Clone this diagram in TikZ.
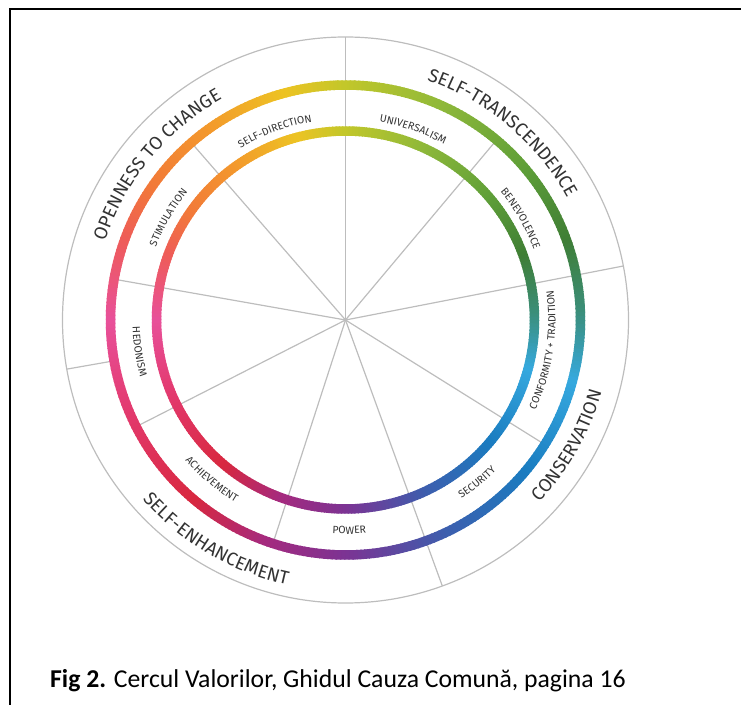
\documentclass[tikz,border=0pt]{standalone}
\usepackage{fontspec}
\setmainfont{Fira Sans}
\newfontfamily\capfont{Carlito}
\newfontfamily\lblfont{Fira Sans}
\usetikzlibrary{decorations.text}
\definecolor{c0}{HTML}{C2C72A}
\definecolor{c1}{HTML}{8DB83A}
\definecolor{c2}{HTML}{5E9E38}
\definecolor{c3}{HTML}{3F7E35}
\definecolor{c4}{HTML}{3B8E7A}
\definecolor{c5}{HTML}{36A9DF}
\definecolor{c6}{HTML}{1A7CC0}
\definecolor{c7}{HTML}{3D5EAE}
\definecolor{c8}{HTML}{7C3393}
\definecolor{c9}{HTML}{A52A7E}
\definecolor{c10}{HTML}{D8283F}
\definecolor{c11}{HTML}{E2386A}
\definecolor{c12}{HTML}{E8509A}
\definecolor{c13}{HTML}{EE5C58}
\definecolor{c14}{HTML}{F27A38}
\definecolor{c15}{HTML}{F39A2C}
\definecolor{c16}{HTML}{EDC323}
\definecolor{linegray}{HTML}{BDBDBD}
\definecolor{labelgray}{HTML}{333333}
\newcommand\grpfont{\lblfont\fontsize{18.5}{20}\selectfont}
\newcommand\valfont{\lblfont\fontsize{10.5}{12}\selectfont}
\tikzset{
  divider/.style={draw=linegray, line width=1.2pt},
  ringseg/.style={line width=9.5pt},
  curvedlabel/.style={decorate, decoration={text along path, text align=center, text color=labelgray}},
}
\begin{document}
\begin{tikzpicture}[x=1pt,y=1pt]
\useasboundingbox (0,0) rectangle (741,705);
\draw[line width=1.8pt] (741,696) -- (10,696) -- (10,0);
\node[anchor=base west, inner sep=0pt, font=\capfont\fontsize{25.7}{30}\selectfont] (caption) at (50,18)
  {\textbf{Fig 2.} Cercul Valorilor, Ghidul Cauza Comună, pagina 16};
\begin{scope}[shift={(345.5,385)}]
  % dividers
  \draw[divider] (0,0) -- (90:283);
  \draw[divider] (0,0) -- (50:235);
  \draw[divider] (0,0) -- (11:283);
  \draw[divider] (0,0) -- (-32:235);
  \draw[divider] (0,0) -- (-70:283);
  \draw[divider] (0,0) -- (-108:235);
  \draw[divider] (0,0) -- (207:235);
  \draw[divider] (0,0) -- (170:235);
  \draw[divider] (0,0) -- (131:235);
  \draw[divider] (190:235) -- (190:283);
  \draw[divider] (0,0) circle[radius=283];
  % gradient rings
  \foreach \sa/\sb/\ca/\cb in {90/65/c0/c1, 65/40/c1/c2, 40/20/c2/c3, 20/2/c3/c4, 2/-15/c4/c5,
      -15/-40/c5/c6, -40/-65/c6/c7, -65/-90/c7/c8, -90/-110/c8/c9, -110/-130/c9/c10,
      -130/-155/c10/c11, -155/-180/c11/c12, -180/-200/c12/c13, -200/-215/c13/c14,
      -215/-235/c14/c15, -235/-255/c15/c16, -255/-270/c16/c0}{
    \pgfmathtruncatemacro\n{\sa-(\sb)}
    \foreach \i in {1,...,\n}{
      \pgfmathsetmacro\aa{\sa-\i+1}
      \pgfmathsetmacro\bb{\sa-\i-0.35}
      \pgfmathtruncatemacro\pp{round(100-100*(\i-0.5)/\n)}
      \draw[ringseg, draw=\ca!\pp!\cb] (\aa:235) arc[start angle=\aa, end angle=\bb, radius=235];
      \draw[ringseg, draw=\ca!\pp!\cb] (\aa:189) arc[start angle=\aa, end angle=\bb, radius=189];
    }
  }
  % value labels (tops outward)
  \path[curvedlabel, decoration={text={|\valfont|SELF-DIRECTION}}] (150:201) arc[start angle=150, end angle=71, radius=201];
  \path[curvedlabel, decoration={text={|\valfont|UNIVERSALISM}}] (110:201) arc[start angle=110, end angle=31, radius=201];
  \path[curvedlabel, decoration={text={|\valfont|BENEVOLENCE}}] (70:201) arc[start angle=70, end angle=-10, radius=201];
  \path[curvedlabel, decoration={text={|\valfont|STIMULATION}}] (190:203) arc[start angle=190, end angle=110, radius=203];
  % value labels (tops inward)
  \path[curvedlabel, decoration={text={|\valfont|CONFORMITY + TRADITION}}] (-48.6:210) arc[start angle=-48.6, end angle=31.4, radius=210];
  \path[curvedlabel, decoration={text={|\valfont|SECURITY}}] (-91:213) arc[start angle=-91, end angle=-11, radius=213];
  \path[curvedlabel, decoration={text={|\valfont|POWER}}] (-129:214) arc[start angle=-129, end angle=-49, radius=214];
  \path[curvedlabel, decoration={text={|\valfont|ACHIEVEMENT}}] (-170:213) arc[start angle=-170, end angle=-90, radius=213];
  \path[curvedlabel, decoration={text={|\valfont|HEDONISM}}] (148.7:213) arc[start angle=148.7, end angle=228.7, radius=213];
  % group labels
  \path[curvedlabel, decoration={text={|\grpfont|OPENNESS TO CHANGE}}] (200:253) arc[start angle=200, end angle=81, radius=253];
  \path[curvedlabel, decoration={text={|\grpfont|SELF-TRANSCENDENCE}}] (110:253) arc[start angle=110, end angle=-10, radius=253];
  \path[curvedlabel, decoration={text={|\grpfont|CONSERVATION}}] (-90:266) arc[start angle=-90, end angle=31, radius=266];
  \path[curvedlabel, decoration={text={|\grpfont|SELF-ENHANCEMENT}}] (-181:271) arc[start angle=-181, end angle=-60, radius=271];
\end{scope}
\end{tikzpicture}
\end{document}
